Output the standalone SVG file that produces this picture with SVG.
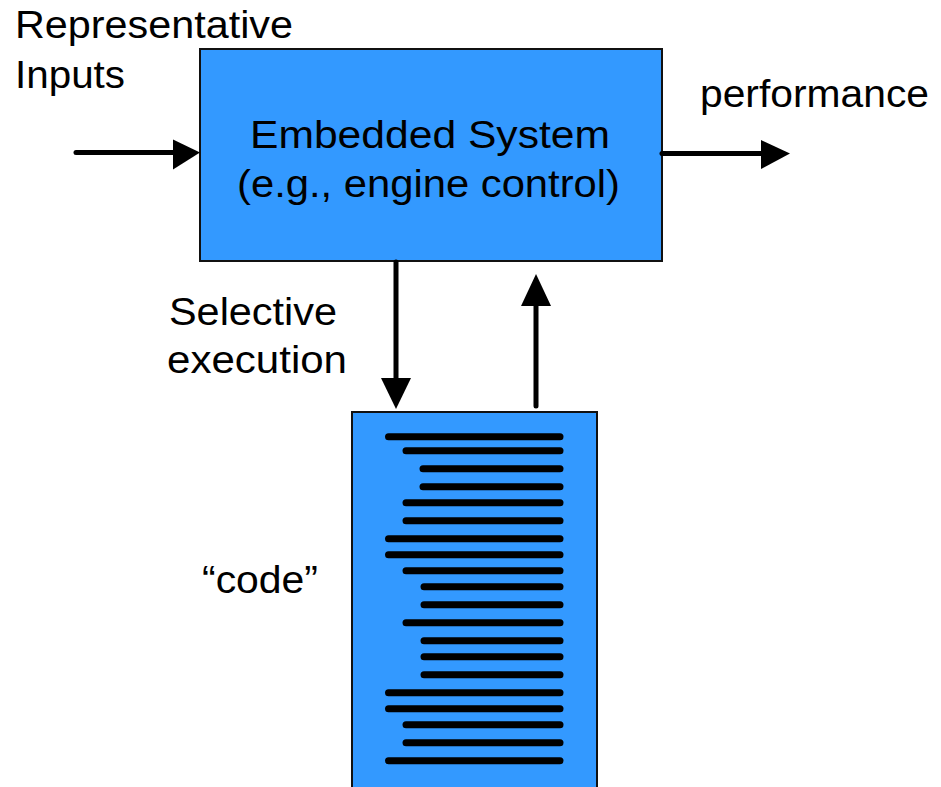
<svg xmlns="http://www.w3.org/2000/svg" width="941" height="787" viewBox="0 0 941 787">
  <style>
    .lbl { font-family: "Liberation Sans", Arial, sans-serif; font-size: 38px; fill: #000; }
    .box { fill: #3399ff; stroke: #111; stroke-width: 2; }
    .conn { stroke: #000; stroke-width: 5; stroke-linecap: round; fill: none; }
    .head { fill: #000; }
    .code line { stroke: #000; stroke-width: 7; stroke-linecap: round; }
  </style>
  <rect width="941" height="787" fill="#fff"/>

  <!-- free-standing labels -->
  <g id="label-inputs">
    <text class="lbl" x="15" y="38" textLength="278" lengthAdjust="spacingAndGlyphs">Representative</text>
    <text class="lbl" x="15" y="88" textLength="110" lengthAdjust="spacingAndGlyphs">Inputs</text>
  </g>
  <g id="label-performance">
    <text class="lbl" x="700" y="107" textLength="229" lengthAdjust="spacingAndGlyphs">performance</text>
  </g>
  <g id="label-selective">
    <text class="lbl" x="169" y="325" textLength="168" lengthAdjust="spacingAndGlyphs">Selective</text>
    <text class="lbl" x="167" y="373" textLength="180" lengthAdjust="spacingAndGlyphs">execution</text>
  </g>
  <g id="label-code">
    <text class="lbl" x="202" y="593" textLength="116" lengthAdjust="spacingAndGlyphs">“code”</text>
  </g>

  <!-- embedded system block -->
  <g id="embedded-system">
    <rect class="box" x="200" y="49" width="462" height="212"/>
    <text class="lbl" x="250" y="148" textLength="360" lengthAdjust="spacingAndGlyphs">Embedded System</text>
    <text class="lbl" x="237" y="197" textLength="383" lengthAdjust="spacingAndGlyphs">(e.g., engine control)</text>
  </g>

  <!-- code listing block -->
  <g id="code" class="code">
    <rect class="box" x="352" y="412" width="245" height="390"/>
    <line x1="388.5" y1="436.7" x2="560" y2="436.7"/>
    <line x1="406" y1="450.7" x2="560" y2="450.7"/>
    <line x1="423" y1="468.7" x2="560" y2="468.7"/>
    <line x1="423" y1="486.7" x2="560" y2="486.7"/>
    <line x1="406" y1="502.7" x2="560" y2="502.7"/>
    <line x1="406" y1="520.7" x2="560" y2="520.7"/>
    <line x1="388.5" y1="538.7" x2="560" y2="538.7"/>
    <line x1="388.5" y1="554.7" x2="560" y2="554.7"/>
    <line x1="406" y1="570.7" x2="560" y2="570.7"/>
    <line x1="424" y1="586.7" x2="560" y2="586.7"/>
    <line x1="424" y1="604.7" x2="560" y2="604.7"/>
    <line x1="406" y1="622.7" x2="560" y2="622.7"/>
    <line x1="424" y1="640.7" x2="560" y2="640.7"/>
    <line x1="424" y1="656.7" x2="560" y2="656.7"/>
    <line x1="424" y1="674.7" x2="560" y2="674.7"/>
    <line x1="388.5" y1="692.7" x2="560" y2="692.7"/>
    <line x1="388.5" y1="708.7" x2="560" y2="708.7"/>
    <line x1="406" y1="724.7" x2="560" y2="724.7"/>
    <line x1="406" y1="742.7" x2="560" y2="742.7"/>
    <line x1="388.5" y1="760.7" x2="560" y2="760.7"/>
  </g>

  <!-- connectors -->
  <g id="connectors">
    <line class="conn" x1="76" y1="152.5" x2="175" y2="152.5"/>
    <polygon class="head" points="173,139.5 200,152.5 173,169.5"/>

    <line class="conn" x1="662" y1="153.5" x2="763" y2="153.5"/>
    <polygon class="head" points="761,140 790,153.5 761,169"/>

    <line class="conn" x1="396" y1="262" x2="396" y2="380"/>
    <polygon class="head" points="381,378 411,378 396,409"/>

    <line class="conn" x1="536" y1="406" x2="536" y2="304"/>
    <polygon class="head" points="521,306 551,306 536,274"/>
  </g>
</svg>
